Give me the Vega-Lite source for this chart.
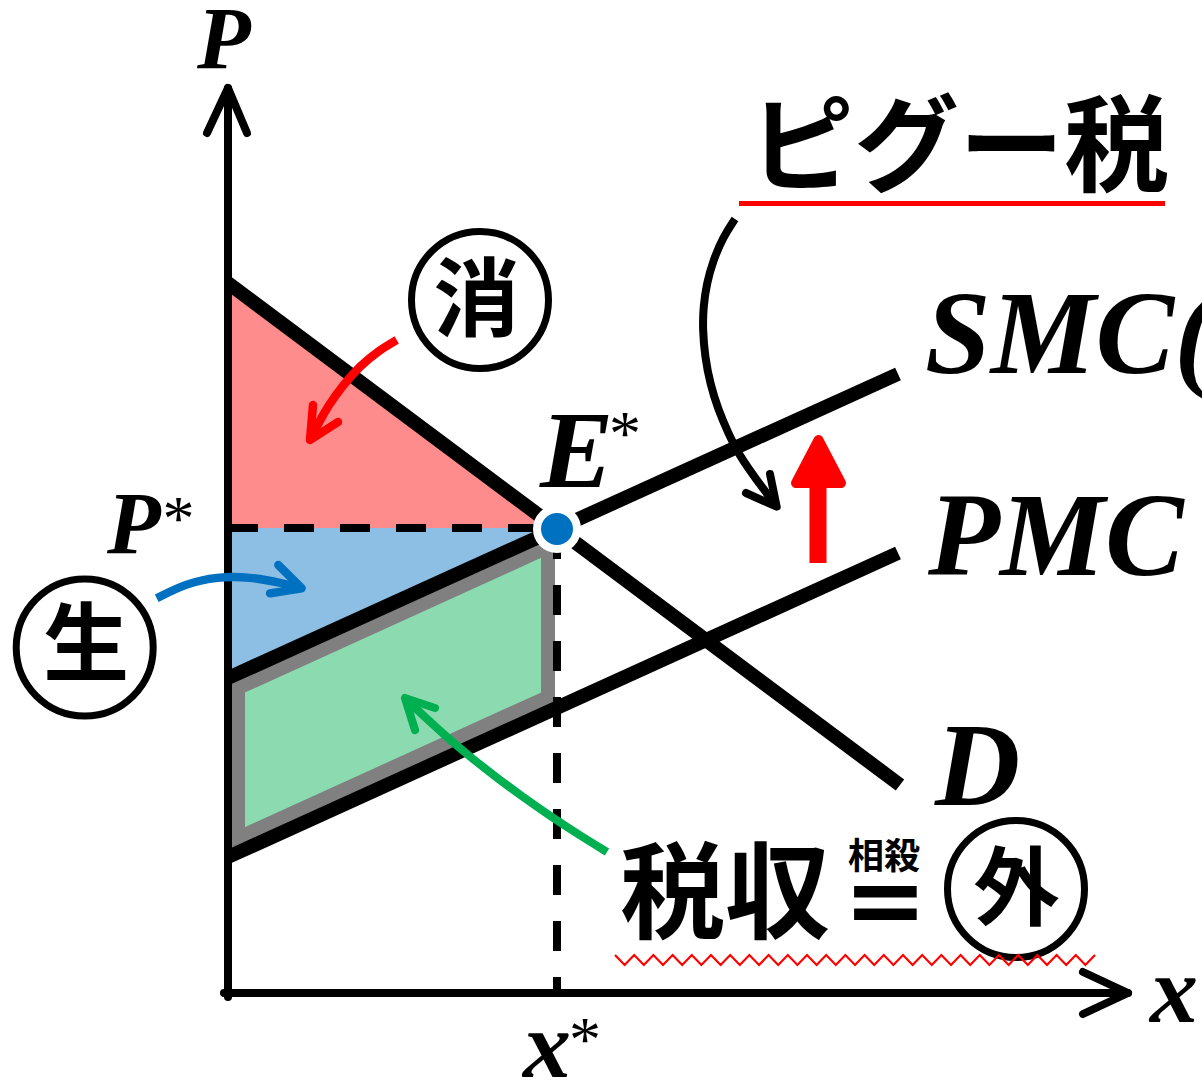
{
  "$schema": "https://vega.github.io/schema/vega-lite/v6.json",
  "width": 1202,
  "height": 1081,
  "autosize": {"type": "none"},
  "padding": 0,
  "background": "white",
  "config": {"view": {"stroke": null}},
  "datasets": {
    "areas": [
      {"r": "cs", "u": 0, "v": 710, "v2": 465},
      {"r": "cs", "u": 329, "v": 464, "v2": 465},
      {"r": "ps", "u": 0, "v": 465, "v2": 315},
      {"r": "ps", "u": 329, "v": 465, "v2": 464},
      {"r": "tx", "u": 0, "v": 315, "v2": 136},
      {"r": "tx", "u": 327, "v": 463.4, "v2": 284.4}
    ],
    "gray": [
      {"i": 0, "u": 10, "v": 305},
      {"i": 1, "u": 320, "v": 446},
      {"i": 2, "u": 320, "v": 296},
      {"i": 3, "u": 10, "v": 155},
      {"i": 4, "u": 10, "v": 305},
      {"i": 5, "u": 320, "v": 446}
    ],
    "dash": [
      {"s": "p", "i": 0, "u": 0, "v": 465},
      {"s": "p", "i": 1, "u": 329, "v": 465},
      {"s": "x", "i": 0, "u": 329, "v": 464},
      {"s": "x", "i": 1, "u": 329, "v": 0}
    ],
    "curves": [
      {"s": "D", "i": 0, "u": 0, "v": 710},
      {"s": "D", "i": 1, "u": 672, "v": 208},
      {"s": "SMC", "i": 0, "u": 0, "v": 315},
      {"s": "SMC", "i": 1, "u": 670, "v": 619},
      {"s": "PMC", "i": 0, "u": 0, "v": 136},
      {"s": "PMC", "i": 1, "u": 670, "v": 440}
    ],
    "axes": [
      {"s": "ya", "i": 0, "u": 0, "v": -4},
      {"s": "ya", "i": 1, "u": 0, "v": 905},
      {"s": "yh", "i": 0, "u": -21, "v": 860},
      {"s": "yh", "i": 1, "u": 0, "v": 905},
      {"s": "yh", "i": 2, "u": 19, "v": 860},
      {"s": "xa", "i": 0, "u": -4, "v": 0},
      {"s": "xa", "i": 1, "u": 900, "v": 0},
      {"s": "xh", "i": 0, "u": 855, "v": 21},
      {"s": "xh", "i": 1, "u": 900, "v": 0},
      {"s": "xh", "i": 2, "u": 855, "v": -21}
    ],
    "arrowCurves": [
      {"a": "cs", "i": 0, "u": 168.7, "v": 653},
      {"a": "cs", "i": 1, "u": 150, "v": 642},
      {"a": "cs", "i": 2, "u": 132, "v": 627},
      {"a": "cs", "i": 3, "u": 115, "v": 608},
      {"a": "cs", "i": 4, "u": 100, "v": 587},
      {"a": "cs", "i": 5, "u": 90, "v": 569},
      {"a": "cs", "i": 6, "u": 82, "v": 553},
      {"a": "ps", "i": 0, "u": -71.3, "v": 394.7},
      {"a": "ps", "i": 1, "u": -41.3, "v": 409.7},
      {"a": "ps", "i": 2, "u": -11.3, "v": 416.3},
      {"a": "ps", "i": 3, "u": 22, "v": 416.3},
      {"a": "ps", "i": 4, "u": 55.3, "v": 409.7},
      {"a": "ps", "i": 5, "u": 73.7, "v": 404.7},
      {"a": "tx", "i": 0, "u": 379, "v": 141},
      {"a": "tx", "i": 1, "u": 349.6, "v": 159.1},
      {"a": "tx", "i": 2, "u": 321.3, "v": 177.6},
      {"a": "tx", "i": 3, "u": 294.3, "v": 196.4},
      {"a": "tx", "i": 4, "u": 268.5, "v": 215.5},
      {"a": "tx", "i": 5, "u": 243.8, "v": 234.9},
      {"a": "tx", "i": 6, "u": 220.3, "v": 254.6},
      {"a": "tx", "i": 7, "u": 198.2, "v": 274.6},
      {"a": "tx", "i": 8, "u": 177, "v": 295},
      {"a": "pg", "i": 0, "u": 507, "v": 774},
      {"a": "pg", "i": 1, "u": 495.3, "v": 756.3},
      {"a": "pg", "i": 2, "u": 485.3, "v": 733},
      {"a": "pg", "i": 3, "u": 478.7, "v": 709.7},
      {"a": "pg", "i": 4, "u": 475.3, "v": 686.3},
      {"a": "pg", "i": 5, "u": 474.7, "v": 663},
      {"a": "pg", "i": 6, "u": 477, "v": 636.3},
      {"a": "pg", "i": 7, "u": 482, "v": 609.7},
      {"a": "pg", "i": 8, "u": 490.3, "v": 583},
      {"a": "pg", "i": 9, "u": 500.3, "v": 559.7},
      {"a": "pg", "i": 10, "u": 512, "v": 536.3},
      {"a": "pg", "i": 11, "u": 528.7, "v": 513},
      {"a": "pg", "i": 12, "u": 548.7, "v": 486.3}
    ],
    "arrowHeads": [
      {"a": "cs", "i": 0, "u": 85, "v": 588},
      {"a": "cs", "i": 1, "u": 82, "v": 553},
      {"a": "cs", "i": 2, "u": 110, "v": 571},
      {"a": "ps", "i": 0, "u": 50.3, "v": 428},
      {"a": "ps", "i": 1, "u": 73.7, "v": 404.7},
      {"a": "ps", "i": 2, "u": 42, "v": 399.7},
      {"a": "tx", "i": 0, "u": 207, "v": 285},
      {"a": "tx", "i": 1, "u": 177, "v": 295},
      {"a": "tx", "i": 2, "u": 187, "v": 263},
      {"a": "pg", "i": 0, "u": 542, "v": 519},
      {"a": "pg", "i": 1, "u": 548.7, "v": 486.3},
      {"a": "pg", "i": 2, "u": 518, "v": 500}
    ],
    "upShaft": [
      {"i": 0, "u": 590, "v": 430},
      {"i": 1, "u": 590, "v": 515}
    ],
    "upHead": [
      {"u": 568, "v": 510, "v2": 510},
      {"u": 590.5, "v": 553, "v2": 510},
      {"u": 613, "v": 510, "v2": 510}
    ],
    "upOutline": [
      {"i": 0, "u": 568, "v": 510},
      {"i": 1, "u": 590.5, "v": 553},
      {"i": 2, "u": 613, "v": 510},
      {"i": 3, "u": 568, "v": 510},
      {"i": 4, "u": 590.5, "v": 553}
    ],
    "dot": [{"u": 329, "v": 464}],
    "circles": [
      {"u": 252, "v": 693},
      {"u": -143.3, "v": 345.5},
      {"u": 788, "v": 104}
    ],
    "underline": [
      {"i": 0, "u": 511, "v": 789.5},
      {"i": 1, "u": 937, "v": 789.5}
    ],
    "zigzag": [
      {"i": 0, "u": 387, "v": 38}, {"i": 1, "u": 396.6, "v": 28},
      {"i": 2, "u": 406.2, "v": 38}, {"i": 3, "u": 415.8, "v": 28},
      {"i": 4, "u": 425.4, "v": 38}, {"i": 5, "u": 435, "v": 28},
      {"i": 6, "u": 444.6, "v": 38}, {"i": 7, "u": 454.2, "v": 28},
      {"i": 8, "u": 463.8, "v": 38}, {"i": 9, "u": 473.4, "v": 28},
      {"i": 10, "u": 483, "v": 38}, {"i": 11, "u": 492.6, "v": 28},
      {"i": 12, "u": 502.2, "v": 38}, {"i": 13, "u": 511.8, "v": 28},
      {"i": 14, "u": 521.4, "v": 38}, {"i": 15, "u": 531, "v": 28},
      {"i": 16, "u": 540.6, "v": 38}, {"i": 17, "u": 550.2, "v": 28},
      {"i": 18, "u": 559.8, "v": 38}, {"i": 19, "u": 569.4, "v": 28},
      {"i": 20, "u": 579, "v": 38}, {"i": 21, "u": 588.6, "v": 28},
      {"i": 22, "u": 598.2, "v": 38}, {"i": 23, "u": 607.8, "v": 28},
      {"i": 24, "u": 617.4, "v": 38}, {"i": 25, "u": 627, "v": 28},
      {"i": 26, "u": 636.6, "v": 38}, {"i": 27, "u": 646.2, "v": 28},
      {"i": 28, "u": 655.8, "v": 38}, {"i": 29, "u": 665.4, "v": 28},
      {"i": 30, "u": 675, "v": 38}, {"i": 31, "u": 684.6, "v": 28},
      {"i": 32, "u": 694.2, "v": 38}, {"i": 33, "u": 703.8, "v": 28},
      {"i": 34, "u": 713.4, "v": 38}, {"i": 35, "u": 723, "v": 28},
      {"i": 36, "u": 732.6, "v": 38}, {"i": 37, "u": 742.2, "v": 28},
      {"i": 38, "u": 751.8, "v": 38}, {"i": 39, "u": 761.4, "v": 28},
      {"i": 40, "u": 771, "v": 38}, {"i": 41, "u": 780.6, "v": 28},
      {"i": 42, "u": 790.2, "v": 38}, {"i": 43, "u": 799.8, "v": 28},
      {"i": 44, "u": 809.4, "v": 38}, {"i": 45, "u": 819, "v": 28},
      {"i": 46, "u": 828.6, "v": 38}, {"i": 47, "u": 838.2, "v": 28},
      {"i": 48, "u": 847.8, "v": 38}, {"i": 49, "u": 857.4, "v": 28},
      {"i": 50, "u": 867, "v": 38}
    ],
    "lblBig": [
      {"t": "SMC(", "u": 697, "v": 620},
      {"t": "PMC", "u": 700, "v": 418},
      {"t": "D", "u": 707, "v": 188}
    ],
    "lblE": [{"t": "E", "u": 312, "v": 506}],
    "lblP": [
      {"t": "P", "u": -31, "v": 925},
      {"t": "P", "u": -121, "v": 440}
    ],
    "lblX": [
      {"t": "x", "u": 922, "v": -29},
      {"t": "x", "u": 295, "v": -84}
    ],
    "stars": [
      {"t": "*", "u": 397, "v": 538},
      {"t": "*", "u": -49.5, "v": 453},
      {"t": "*", "u": 357, "v": -68}
    ],
    "jpBig": [
      {"t": "ピグー税", "u": 731, "v": 842},
      {"t": "税収", "u": 497, "v": 95}
    ],
    "jpCirc": [
      {"t": "消", "u": 248.5, "v": 689},
      {"t": "生", "u": -142, "v": 344},
      {"t": "外", "u": 788.5, "v": 100}
    ],
    "jpSmall": [{"t": "相殺", "u": 656, "v": 135}],
    "eq": [{"t": "=", "u": 657.5, "v": 59}]
  },
  "encoding": {
    "x": {"field": "u", "type": "quantitative", "scale": {"domain": [-228, 974], "nice": false, "zero": false}, "axis": null},
    "y": {"field": "v", "type": "quantitative", "scale": {"domain": [-88, 993], "nice": false, "zero": false}, "axis": null}
  },
  "layer": [
    {
      "data": {"name": "areas"},
      "mark": {"type": "area", "opacity": 0.45},
      "encoding": {
        "y": {"field": "v", "type": "quantitative", "stack": null, "scale": {"domain": [-88, 993], "nice": false, "zero": false}, "axis": null},
        "y2": {"field": "v2"},
        "color": {"field": "r", "type": "nominal", "scale": {"domain": ["cs", "ps", "tx", "pg"], "range": ["#ff0000", "#0070c0", "#00b050", "#000000"]}, "legend": null}
      }
    },
    {
      "data": {"name": "gray"},
      "mark": {"type": "line", "stroke": "#808080", "strokeWidth": 14, "strokeJoin": "miter", "strokeCap": "butt"},
      "encoding": {"order": {"field": "i", "type": "quantitative"}}
    },
    {
      "data": {"name": "dash"},
      "mark": {"type": "line", "stroke": "#000000", "strokeWidth": 8, "strokeDash": [30, 26], "strokeCap": "butt"},
      "encoding": {"detail": {"field": "s"}, "order": {"field": "i", "type": "quantitative"}}
    },
    {
      "data": {"name": "curves"},
      "mark": {"type": "line", "stroke": "#000000", "strokeWidth": 14, "strokeCap": "butt"},
      "encoding": {"detail": {"field": "s"}, "order": {"field": "i", "type": "quantitative"}}
    },
    {
      "data": {"name": "axes"},
      "mark": {"type": "line", "stroke": "#000000", "strokeWidth": 8, "strokeCap": "round", "strokeJoin": "round"},
      "encoding": {"detail": {"field": "s"}, "order": {"field": "i", "type": "quantitative"}}
    },
    {
      "data": {"name": "dot"},
      "mark": {"type": "point", "shape": "circle", "filled": true, "fill": "#0070c0", "stroke": "#ffffff", "strokeWidth": 8, "size": 1600, "opacity": 1}
    },
    {
      "data": {"name": "arrowCurves"},
      "mark": {"type": "line", "interpolate": "basis", "strokeCap": "butt"},
      "encoding": {
        "order": {"field": "i", "type": "quantitative"},
        "color": {"field": "a", "type": "nominal", "scale": {"domain": ["cs", "ps", "tx", "pg"], "range": ["#ff0000", "#0070c0", "#00b050", "#000000"]}, "legend": null},
        "strokeWidth": {"field": "a", "type": "nominal", "scale": {"domain": ["cs", "ps", "tx", "pg"], "range": [8.5, 8, 8, 6.5]}, "legend": null}
      }
    },
    {
      "data": {"name": "arrowHeads"},
      "mark": {"type": "line", "strokeCap": "round", "strokeJoin": "round"},
      "encoding": {
        "order": {"field": "i", "type": "quantitative"},
        "color": {"field": "a", "type": "nominal", "scale": {"domain": ["cs", "ps", "tx", "pg"], "range": ["#ff0000", "#0070c0", "#00b050", "#000000"]}, "legend": null},
        "strokeWidth": {"field": "a", "type": "nominal", "scale": {"domain": ["cs", "ps", "tx", "pg"], "range": [8.5, 8, 8, 6.5]}, "legend": null}
      }
    },
    {
      "data": {"name": "upShaft"},
      "mark": {"type": "line", "stroke": "#ff0000", "strokeWidth": 17, "strokeCap": "butt"},
      "encoding": {"order": {"field": "i", "type": "quantitative"}}
    },
    {
      "data": {"name": "upHead"},
      "mark": {"type": "area", "color": "#ff0000", "opacity": 1},
      "encoding": {
        "y": {"field": "v", "type": "quantitative", "stack": null, "scale": {"domain": [-88, 993], "nice": false, "zero": false}, "axis": null},
        "y2": {"field": "v2"}
      }
    },
    {
      "data": {"name": "upOutline"},
      "mark": {"type": "line", "stroke": "#ff0000", "strokeWidth": 10, "strokeJoin": "round", "strokeCap": "round"},
      "encoding": {"order": {"field": "i", "type": "quantitative"}}
    },
    {
      "data": {"name": "circles"},
      "mark": {"type": "point", "shape": "circle", "filled": false, "stroke": "#000000", "strokeWidth": 7, "size": 18769, "opacity": 1}
    },
    {
      "data": {"name": "underline"},
      "mark": {"type": "line", "stroke": "#ff0000", "strokeWidth": 5, "strokeCap": "butt"},
      "encoding": {"order": {"field": "i", "type": "quantitative"}}
    },
    {
      "data": {"name": "lblBig"},
      "mark": {"type": "text", "font": "Liberation Serif", "fontStyle": "italic", "fontWeight": "bold", "fontSize": 118, "align": "left", "baseline": "alphabetic", "color": "#000000"},
      "encoding": {"text": {"field": "t"}}
    },
    {
      "data": {"name": "lblE"},
      "mark": {"type": "text", "font": "Liberation Serif", "fontStyle": "italic", "fontWeight": "bold", "fontSize": 110, "align": "left", "baseline": "alphabetic", "color": "#000000"},
      "encoding": {"text": {"field": "t"}}
    },
    {
      "data": {"name": "lblP"},
      "mark": {"type": "text", "font": "Liberation Serif", "fontStyle": "italic", "fontWeight": "bold", "fontSize": 88, "align": "left", "baseline": "alphabetic", "color": "#000000"},
      "encoding": {"text": {"field": "t"}}
    },
    {
      "data": {"name": "lblX"},
      "mark": {"type": "text", "font": "Liberation Serif", "fontStyle": "italic", "fontWeight": "bold", "fontSize": 96, "align": "left", "baseline": "alphabetic", "color": "#000000"},
      "encoding": {"text": {"field": "t"}}
    },
    {
      "data": {"name": "stars"},
      "mark": {"type": "text", "font": "Liberation Serif", "fontSize": 64, "align": "center", "baseline": "alphabetic", "color": "#000000"},
      "encoding": {"text": {"field": "t"}}
    },
    {
      "data": {"name": "jpBig"},
      "mark": {"type": "text", "font": "Noto Sans CJK JP", "fontWeight": "bold", "fontSize": 105, "align": "center", "baseline": "middle", "color": "#000000"},
      "encoding": {"text": {"field": "t"}}
    },
    {
      "data": {"name": "jpCirc"},
      "mark": {"type": "text", "font": "Noto Sans CJK JP", "fontWeight": "bold", "fontSize": 86, "align": "center", "baseline": "middle", "color": "#000000"},
      "encoding": {"text": {"field": "t"}}
    },
    {
      "data": {"name": "jpSmall"},
      "mark": {"type": "text", "font": "Noto Sans CJK JP", "fontWeight": "bold", "fontSize": 36, "align": "center", "baseline": "middle", "color": "#000000"},
      "encoding": {"text": {"field": "t"}}
    },
    {
      "data": {"name": "eq"},
      "mark": {"type": "text", "font": "DejaVu Sans", "fontWeight": "bold", "fontSize": 100, "align": "center", "baseline": "alphabetic", "color": "#000000"},
      "encoding": {"text": {"field": "t"}}
    },
    {
      "data": {"name": "zigzag"},
      "mark": {"type": "line", "stroke": "#ff0000", "strokeWidth": 2.2, "strokeJoin": "miter"},
      "encoding": {"order": {"field": "i", "type": "quantitative"}}
    }
  ]
}
